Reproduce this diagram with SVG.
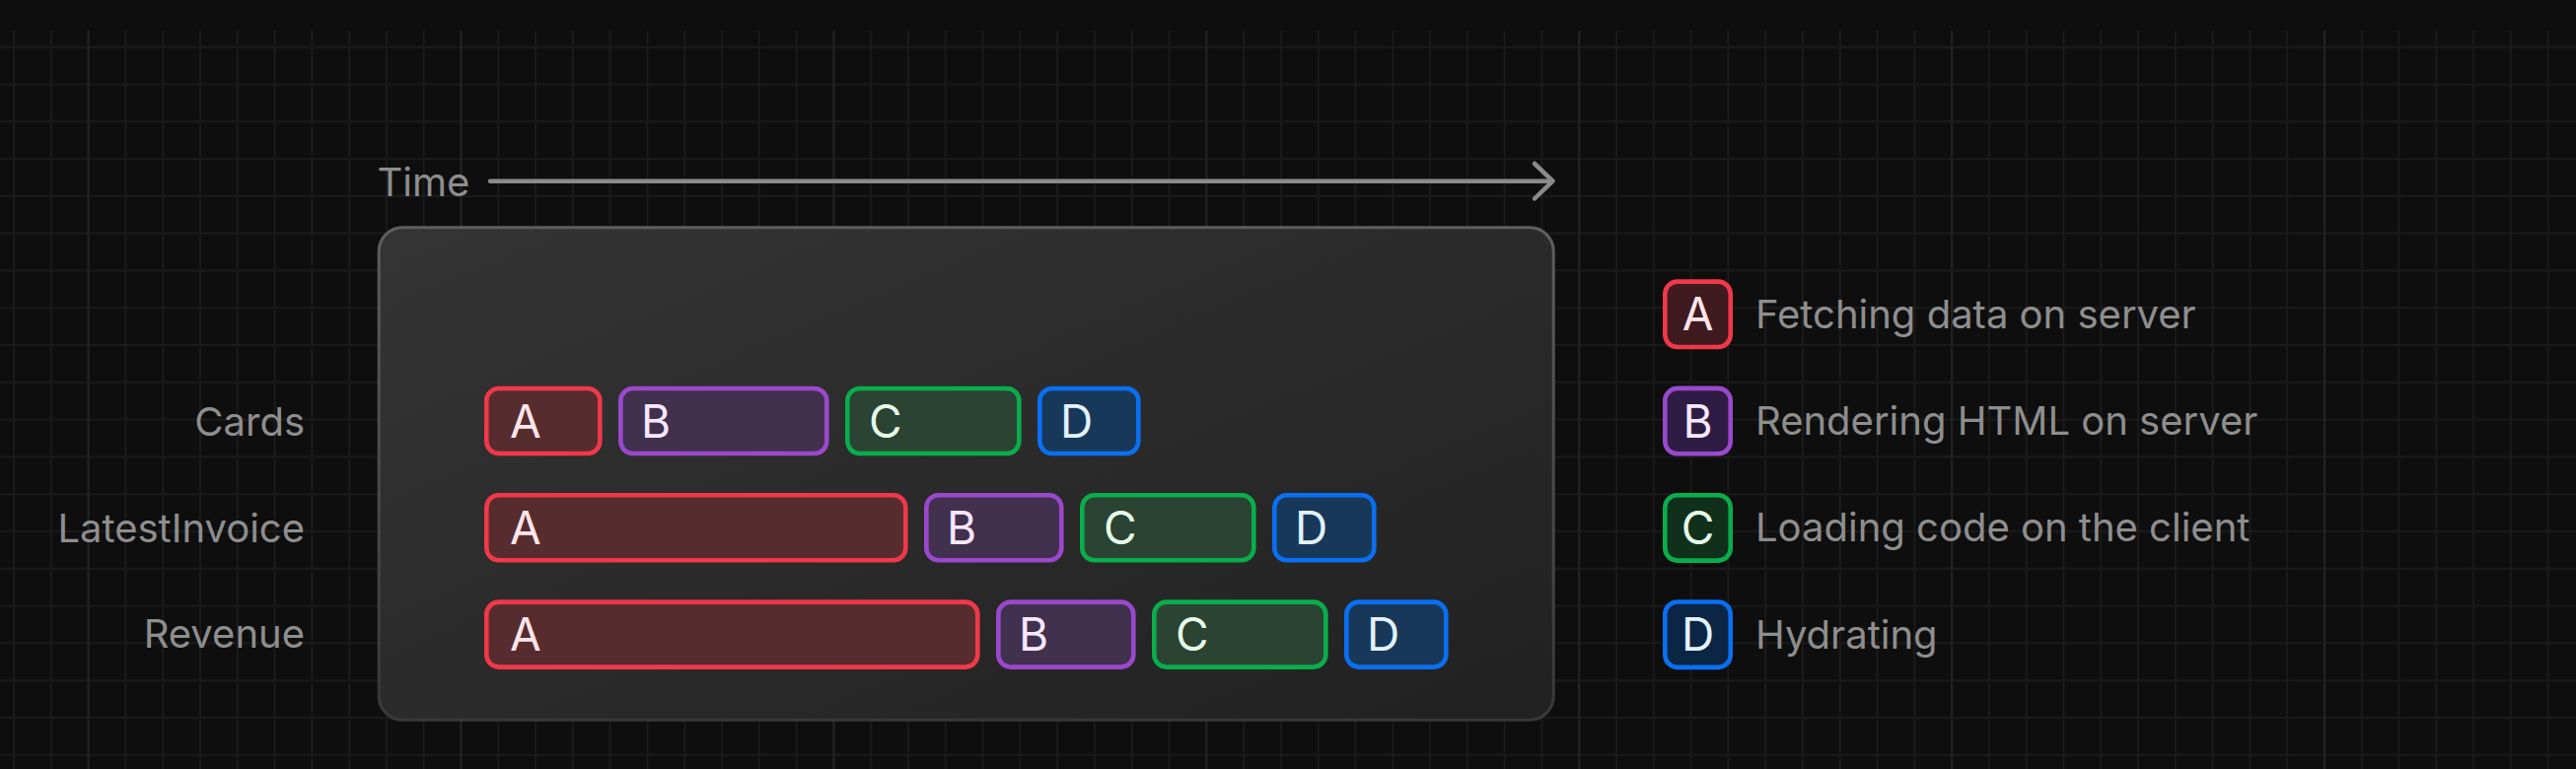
<svg xmlns="http://www.w3.org/2000/svg" width="2612" height="780" viewBox="0 0 2612 780">
<style>
.lbl{font-family:Inter,"Noto Sans","Liberation Sans",sans-serif;font-size:40px;fill:#8e8e8e}
.let{font-family:Inter,"Noto Sans","Liberation Sans",sans-serif;font-size:46px}
.bar{stroke-width:4.6}
.a{fill:#562c2e;stroke:#f0384a}
.b{fill:#42304f;stroke:#9a48cc}
.c{fill:#2b4332;stroke:#0aad4c}
.d{fill:#18385a;stroke:#0a6ff0}
.la{fill:#3f1a1f;stroke:#f0384a}
.lb{fill:#2f1c44;stroke:#9a48cc}
.lc{fill:#10301c;stroke:#0aad4c}
.ld{fill:#0b2544;stroke:#0a6ff0}
.ta{fill:#ffe6ea}.tb{fill:#f7e8ff}.tc{fill:#e6fbe9}.td{fill:#e2f3ff}
.major{stroke:#232323;stroke-width:2}
</style>
<defs>
<pattern id="grid" patternUnits="userSpaceOnUse" x="13" y="46.7" width="37.79" height="37.79">
<rect x="0" y="0" width="2" height="37.79" fill="#1a1a1a"/>
<rect x="0" y="0" width="37.79" height="2" fill="#1a1a1a"/>
</pattern>
<linearGradient id="boxFill" x1="0" y1="0" x2="1" y2="1">
<stop offset="0" stop-color="#343434"/>
<stop offset="1" stop-color="#212121"/>
</linearGradient>
<linearGradient id="boxStroke" x1="0" y1="0" x2="0" y2="1">
<stop offset="0" stop-color="#5e5e5e"/>
<stop offset="1" stop-color="#383838"/>
</linearGradient>
</defs>
<rect width="2612" height="780" fill="#0e0e0e"/>
<g id="background-grid">
<rect x="0" y="31" width="2612" height="749" fill="url(#grid)"/>
<line class="major" x1="89.6" y1="31" x2="89.6" y2="780"/>
<line class="major" x1="467.5" y1="31" x2="467.5" y2="780"/>
<line class="major" x1="845.4" y1="31" x2="845.4" y2="780"/>
<line class="major" x1="1223.3" y1="31" x2="1223.3" y2="780"/>
<line class="major" x1="1601.2" y1="31" x2="1601.2" y2="780"/>
<line class="major" x1="1979.1" y1="31" x2="1979.1" y2="780"/>
<line class="major" x1="2357" y1="31" x2="2357" y2="780"/>
</g>
<g id="time-label"><text class="lbl" x="382.5" y="199">Time</text></g>
<g id="connectors">
<line x1="497" y1="183.7" x2="1573" y2="183.7" stroke="#8a8a8a" stroke-width="4.5" stroke-linecap="round"/>
<polyline points="1556,166 1574.5,183.7 1556,201.5" fill="none" stroke="#8a8a8a" stroke-width="4.5" stroke-linecap="round" stroke-linejoin="round"/>
</g>
<g id="timeline-box">
<rect x="384.2" y="230.8" width="1191" height="499.4" rx="24" fill="url(#boxFill)" stroke="url(#boxStroke)" stroke-width="3"/>
</g>
<g id="row-labels">
<text class="lbl" x="309" y="441.7" text-anchor="end">Cards</text>
<text class="lbl" x="309" y="550" text-anchor="end">LatestInvoice</text>
<text class="lbl" x="309" y="656.7" text-anchor="end">Revenue</text>
</g>
<g id="row-cards">
<rect class="bar a" x="493.3" y="394" width="115" height="66" rx="12.5"/>
<text class="let ta" x="517" y="443.5">A</text>
<rect class="bar b" x="629.3" y="394" width="209" height="66" rx="12.5"/>
<text class="let tb" x="650" y="443.5">B</text>
<rect class="bar c" x="859.3" y="394" width="174" height="66" rx="12.5"/>
<text class="let tc" x="881" y="443.5">C</text>
<rect class="bar d" x="1054.3" y="394" width="100" height="66" rx="12.5"/>
<text class="let td" x="1075" y="443.5">D</text>
</g>
<g id="row-latestinvoice">
<rect class="bar a" x="493.3" y="502.3" width="425" height="66" rx="12.5"/>
<text class="let ta" x="517" y="551.8">A</text>
<rect class="bar b" x="939.3" y="502.3" width="137" height="66" rx="12.5"/>
<text class="let tb" x="960" y="551.8">B</text>
<rect class="bar c" x="1097.3" y="502.3" width="174" height="66" rx="12.5"/>
<text class="let tc" x="1119" y="551.8">C</text>
<rect class="bar d" x="1292.3" y="502.3" width="101" height="66" rx="12.5"/>
<text class="let td" x="1313" y="551.8">D</text>
</g>
<g id="row-revenue">
<rect class="bar a" x="493.3" y="610.6" width="498" height="66" rx="12.5"/>
<text class="let ta" x="517" y="660.1">A</text>
<rect class="bar b" x="1012.3" y="610.6" width="137" height="66" rx="12.5"/>
<text class="let tb" x="1033" y="660.1">B</text>
<rect class="bar c" x="1170.3" y="610.6" width="174" height="66" rx="12.5"/>
<text class="let tc" x="1192" y="660.1">C</text>
<rect class="bar d" x="1365.3" y="610.6" width="101" height="66" rx="12.5"/>
<text class="let td" x="1386" y="660.1">D</text>
</g>
<g id="legend-a">
<rect class="bar la" x="1688.3" y="285.6" width="66.4" height="66.4" rx="12.5"/>
<text class="let ta" x="1721.6" y="335.2" text-anchor="middle">A</text>
<text class="lbl" x="1780" y="332.7">Fetching data on server</text>
</g>
<g id="legend-b">
<rect class="bar lb" x="1688.3" y="393.9" width="66.4" height="66.4" rx="12.5"/>
<text class="let tb" x="1721.6" y="443.5" text-anchor="middle">B</text>
<text class="lbl" x="1780" y="441">Rendering HTML on server</text>
</g>
<g id="legend-c">
<rect class="bar lc" x="1688.3" y="502.2" width="66.4" height="66.4" rx="12.5"/>
<text class="let tc" x="1721.6" y="551.8" text-anchor="middle">C</text>
<text class="lbl" x="1780" y="549.3">Loading code on the client</text>
</g>
<g id="legend-d">
<rect class="bar ld" x="1688.3" y="610.5" width="66.4" height="66.4" rx="12.5"/>
<text class="let td" x="1721.6" y="660.1" text-anchor="middle">D</text>
<text class="lbl" x="1780" y="657.6">Hydrating</text>
</g>
</svg>
